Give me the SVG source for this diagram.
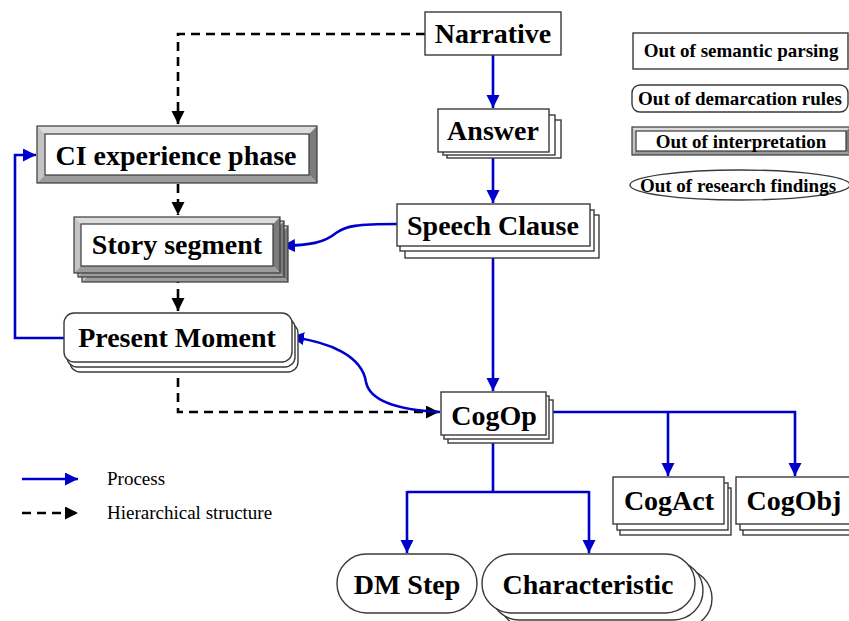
<svg xmlns="http://www.w3.org/2000/svg" xmlns:xlink="http://www.w3.org/1999/xlink" width="849" height="621" viewBox="0 0 849 621">
  <style>
    .box { fill: #ffffff; stroke: #3a3a3a; stroke-width: 1.4; }
    .lbl { font-family: "Liberation Serif", "Times New Roman", serif; font-weight: bold; font-size: 28px; fill: #000; text-anchor: middle; }
    .key { font-family: "Liberation Serif", "Times New Roman", serif; font-weight: bold; font-size: 19px; fill: #000; text-anchor: middle; }
    .leg { font-family: "Liberation Serif", "Times New Roman", serif; font-size: 19px; fill: #000; }
    .proc { fill: none; stroke: #0000cc; stroke-width: 2.6; }
    .hier { fill: none; stroke: #000; stroke-width: 2.6; stroke-dasharray: 9 6; }
    .bt { fill: #dcdcdc; }
    .bl { fill: #c4c4c4; }
    .br { fill: #7c7c7c; }
    .bb { fill: #9c9c9c; }
    .edge { fill: none; stroke: #3a3a3a; stroke-width: 1.2; }
  </style>
  <defs>
    <marker id="arrBlue" markerUnits="userSpaceOnUse" markerWidth="14" markerHeight="14" refX="13" refY="6.5" orient="auto">
      <path d="M0,0 L13,6.5 L0,13 z" fill="#0000cc"/>
    </marker>
    <marker id="arrBlack" markerUnits="userSpaceOnUse" markerWidth="14" markerHeight="14" refX="13" refY="6.5" orient="auto">
      <path d="M0,0 L13,6.5 L0,13 z" fill="#000"/>
    </marker>
    <!-- beveled frame used by the story segment stack -->
    <g id="storyFrame">
      <rect x="74" y="217" width="206" height="56" fill="#fff"/>
      <polygon class="bt" points="74,217 280,217 273,224 81,224"/>
      <polygon class="bl" points="74,217 81,224 81,266 74,273"/>
      <polygon class="br" points="280,217 280,273 273,266 273,224"/>
      <polygon class="bb" points="74,273 280,273 273,266 81,266"/>
      <rect class="edge" x="74" y="217" width="206" height="56"/>
      <rect class="edge" x="81" y="224" width="192" height="42"/>
    </g>
    <rect id="pmShape" x="64" y="313" width="228" height="49" rx="10" ry="10" class="box"/>
    <rect id="cogOpShape" x="441" y="392" width="105" height="43" class="box"/>
    <rect id="cogActShape" x="613" y="477" width="111" height="47" class="box"/>
    <rect id="cogObjShape" x="736" y="477" width="118" height="47" class="box"/>
    <rect id="charShape" x="482" y="554" width="213" height="59" rx="29.5" ry="29.5" class="box"/>
  </defs>

  <!-- connectors -->
  <g id="connectors">
    <!-- hierarchical structure (dashed) -->
    <path class="hier" d="M425,34 H178 V124" marker-end="url(#arrBlack)"/>
    <path class="hier" d="M178,184 V215" marker-end="url(#arrBlack)"/>
    <path class="hier" d="M178,274 V311" marker-end="url(#arrBlack)"/>
    <path class="hier" d="M178,363 V412 H439" marker-end="url(#arrBlack)"/>
    <!-- process (blue) -->
    <path class="proc" d="M493,55 V108" marker-end="url(#arrBlue)"/>
    <path class="proc" d="M493,152 V203" marker-end="url(#arrBlue)"/>
    <path class="proc" d="M493,246 V391" marker-end="url(#arrBlue)"/>
    <path class="proc" d="M397,224 C356,224 346,226 336,233 C324,243 310,245 282,246" marker-end="url(#arrBlue)"/>
    <path class="proc" d="M440,412 C400,410 370,402 366,382 C362,356 330,342 291,337" marker-end="url(#arrBlue)"/>
    <path class="proc" d="M64,338 H15 V155 H36" marker-end="url(#arrBlue)"/>
    <path class="proc" d="M546,412 H795 V476" marker-end="url(#arrBlue)"/>
    <path class="proc" d="M668,412 V476" marker-end="url(#arrBlue)"/>
    <path class="proc" d="M493,435 V492"/>
    <path class="proc" d="M407,492 H589"/>
    <path class="proc" d="M407,491 V553" marker-end="url(#arrBlue)"/>
    <path class="proc" d="M589,491 V553" marker-end="url(#arrBlue)"/>
  </g>

  <!-- nodes -->
  <g id="narrative">
    <rect class="box" x="425" y="12" width="136" height="43"/>
    <text class="lbl" x="493" y="43">Narrative</text>
  </g>

  <g id="answer">
    <rect class="box" x="447" y="120" width="114" height="38"/>
    <rect class="box" x="443" y="115" width="112" height="40"/>
    <rect class="box" x="438" y="109" width="111" height="43"/>
    <text class="lbl" x="493" y="140">Answer</text>
  </g>

  <g id="speech-clause">
    <rect class="box" x="405" y="215" width="194" height="43"/>
    <rect class="box" x="400" y="210" width="194" height="41"/>
    <rect class="box" x="397" y="204" width="193" height="42"/>
    <text class="lbl" x="493" y="235">Speech Clause</text>
  </g>

  <g id="ci-experience-phase">
    <rect x="37" y="126" width="280" height="57" fill="#fff"/>
    <polygon class="bt" points="37,126 317,126 309,134 45,134"/>
    <polygon class="bl" points="37,126 45,134 45,175 37,183"/>
    <polygon class="br" points="317,126 317,183 309,175 309,134"/>
    <polygon class="bb" points="37,183 317,183 309,175 45,175"/>
    <rect class="edge" x="37" y="126" width="280" height="57"/>
    <rect class="edge" x="45" y="134" width="264" height="41"/>
    <text class="lbl" x="176" y="165">CI experience phase</text>
  </g>

  <g id="story-segment">
    <use xlink:href="#storyFrame" transform="translate(8,9)"/>
    <use xlink:href="#storyFrame" transform="translate(4,4)"/>
    <use xlink:href="#storyFrame"/>
    <text class="lbl" x="177" y="254">Story segment</text>
  </g>

  <g id="present-moment">
    <use xlink:href="#pmShape" transform="translate(6,10)"/>
    <use xlink:href="#pmShape" transform="translate(3,5)"/>
    <use xlink:href="#pmShape"/>
    <text class="lbl" x="177" y="347">Present Moment</text>
  </g>

  <g id="cogop">
    <use xlink:href="#cogOpShape" transform="translate(7,8)"/>
    <use xlink:href="#cogOpShape" transform="translate(3,4)"/>
    <use xlink:href="#cogOpShape"/>
    <text class="lbl" x="494" y="425">CogOp</text>
  </g>

  <g id="cogact">
    <use xlink:href="#cogActShape" transform="translate(7,11)"/>
    <use xlink:href="#cogActShape" transform="translate(4,6)"/>
    <use xlink:href="#cogActShape"/>
    <text class="lbl" x="669" y="510">CogAct</text>
  </g>

  <g id="cogobj">
    <use xlink:href="#cogObjShape" transform="translate(7,11)"/>
    <use xlink:href="#cogObjShape" transform="translate(4,6)"/>
    <use xlink:href="#cogObjShape"/>
    <text class="lbl" x="794" y="510">CogObj</text>
  </g>

  <g id="dm-step">
    <rect class="box" x="337" y="554" width="140" height="59" rx="29.5" ry="29.5"/>
    <text class="lbl" x="407" y="594">DM Step</text>
  </g>

  <g id="characteristic">
    <use xlink:href="#charShape" transform="translate(17,15)"/>
    <use xlink:href="#charShape" transform="translate(8,7)"/>
    <use xlink:href="#charShape"/>
    <text class="lbl" x="588" y="594">Characteristic</text>
  </g>

  <!-- source key (top right) -->
  <g id="key-semantic">
    <rect class="box" x="633" y="33" width="215" height="36"/>
    <text class="key" x="741" y="57">Out of semantic parsing</text>
  </g>
  <g id="key-demarcation">
    <rect class="box" x="632" y="85" width="216" height="27" rx="8" ry="8"/>
    <text class="key" x="740" y="105">Out of demarcation rules</text>
  </g>
  <g id="key-interpretation">
    <rect x="632" y="127" width="218" height="28" fill="#fff"/>
    <polygon class="bt" points="632,127 850,127 846,131 636,131"/>
    <polygon class="bl" points="632,127 636,131 636,151 632,155"/>
    <polygon class="br" points="850,127 850,155 846,151 846,131"/>
    <polygon class="bb" points="632,155 850,155 846,151 636,151"/>
    <rect class="edge" x="632" y="127" width="218" height="28"/>
    <rect class="edge" x="636" y="131" width="210" height="20"/>
    <text class="key" x="741" y="148">Out of interpretation</text>
  </g>
  <g id="key-research">
    <ellipse class="box" cx="740" cy="185" rx="110" ry="15"/>
    <text class="key" x="738" y="192">Out of research findings</text>
  </g>

  <!-- line style legend (bottom left) -->
  <g id="legend">
    <path class="proc" d="M22,479 H78" marker-end="url(#arrBlue)"/>
    <text class="leg" x="107" y="485">Process</text>
    <path class="hier" d="M22,513 H78" stroke-dasharray="10 6" marker-end="url(#arrBlack)"/>
    <text class="leg" x="107" y="519">Hierarchical structure</text>
  </g>
</svg>
